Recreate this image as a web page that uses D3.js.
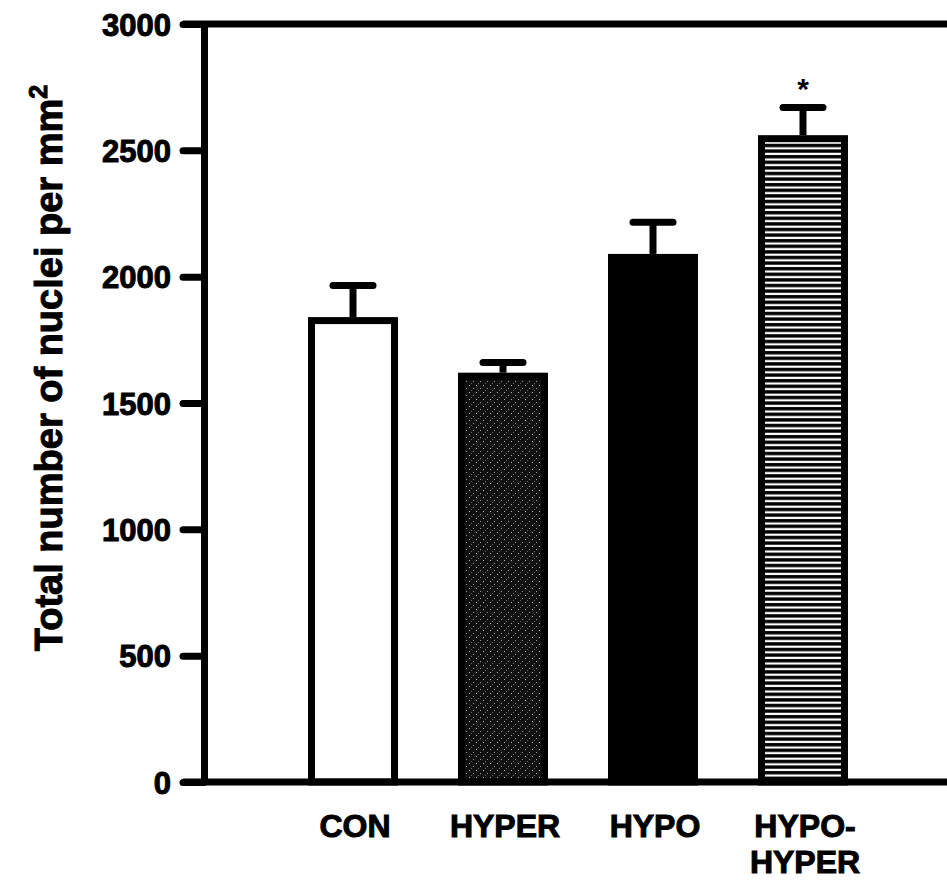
<!DOCTYPE html>
<html>
<head>
<meta charset="utf-8">
<script src="https://cdn.jsdelivr.net/npm/d3@7"></script>
<style>
  html, body { margin: 0; padding: 0; background: #fff; }
  svg { display: block; }
  text { font-family: "Liberation Sans", Arial, sans-serif; font-weight: bold; fill: #000; }
</style>
</head>
<body>
<svg id="chart" width="947" height="893"></svg>
<script>
// ---- data ----
const categories = ["CON", "HYPER", "HYPO", "HYPO-HYPER"];
const labelLines = [["CON"], ["HYPER"], ["HYPO"], ["HYPO-", "HYPER"]];
const means = [1840, 1620, 2090, 2560];
const errors = [125, 40, 125, 110];
const significant = [false, false, false, true];
const yTicks = [0, 500, 1000, 1500, 2000, 2500, 3000];
const yTitle = "Total number of nuclei per mm";

// ---- layout ----
const svg = d3.select("#chart");
const axisX = 204, yTop = 24, yBottom = 782, rightEdge = 947;
const lw = 7;

const y = d3.scaleLinear().domain([0, 3000]).range([yBottom, yTop]);
const x = d3.scaleBand().domain(categories).range([278, 878]).paddingInner(0.4).paddingOuter(0.2);

// patterns
const defs = svg.append("defs");
const stip = defs.append("pattern").attr("id", "stipple").attr("patternUnits", "userSpaceOnUse")
  .attr("width", 7).attr("height", 7);
stip.append("rect").attr("width", 7).attr("height", 7).attr("fill", "#111");
stip.append("rect").attr("x", 0).attr("y", 0).attr("width", 1).attr("height", 1).attr("fill", "#bbb");
stip.append("rect").attr("x", 4).attr("y", 3).attr("width", 1).attr("height", 1).attr("fill", "#999");
stip.append("rect").attr("x", 2).attr("y", 5).attr("width", 1).attr("height", 1).attr("fill", "#666");

const stripe = defs.append("pattern").attr("id", "stripes").attr("patternUnits", "userSpaceOnUse")
  .attr("width", 10).attr("height", 5.6);
stripe.append("rect").attr("width", 10).attr("height", 5.6).attr("fill", "#000");
stripe.append("rect").attr("y", 1.6).attr("width", 10).attr("height", 2.2).attr("fill", "#fff");

const fills = ["#fff", "url(#stipple)", "#000", "url(#stripes)"];

// error bars
const eb = svg.append("g").attr("class", "errorbars");
categories.forEach((c, i) => {
  const cx = x(c) + x.bandwidth() / 2;
  eb.append("line").attr("x1", cx).attr("x2", cx)
    .attr("y1", y(means[i])).attr("y2", y(means[i] + errors[i]))
    .attr("stroke", "#000").attr("stroke-width", lw);
  eb.append("line").attr("x1", cx - 20).attr("x2", cx + 20)
    .attr("y1", y(means[i] + errors[i])).attr("y2", y(means[i] + errors[i]))
    .attr("stroke", "#000").attr("stroke-width", lw).attr("stroke-linecap", "round");
});

// bars
svg.append("g").selectAll("rect").data(categories).join("rect")
  .attr("x", d => x(d) + lw / 2)
  .attr("width", x.bandwidth() - lw)
  .attr("y", (d, i) => y(means[i]) + lw / 2)
  .attr("height", (d, i) => yBottom - y(means[i]) - lw / 2)
  .attr("fill", (d, i) => fills[i])
  .attr("stroke", "#000").attr("stroke-width", lw);

// significance marks
svg.append("g").selectAll("text").data(categories.filter((c, i) => significant[i])).join("text")
  .attr("x", d => x(d) + x.bandwidth() / 2)
  .attr("y", d => y(means[categories.indexOf(d)] + errors[categories.indexOf(d)]) - 8)
  .attr("text-anchor", "middle").attr("font-size", 30).text("*");

// y axis
const yAxis = d3.axisLeft(y).tickValues(yTicks).tickSize(21).tickSizeOuter(0).tickPadding(12)
  .tickFormat(d3.format("d"));
const gy = svg.append("g").attr("transform", `translate(${axisX},0)`).call(yAxis);
gy.select(".domain").attr("stroke", "#000").attr("stroke-width", lw);
gy.selectAll(".tick line").attr("stroke", "#000").attr("stroke-width", lw).attr("stroke-linecap", "round");
gy.selectAll(".tick text").attr("font-size", 31).attr("font-family", "Liberation Sans, Arial, sans-serif")
  .attr("font-weight", "bold").attr("dy", "0.36em")
  .attr("stroke", "#000").attr("stroke-width", 1);

// frame lines (top and bottom)
svg.append("line").attr("x1", axisX - 21).attr("x2", rightEdge).attr("y1", y(3000)).attr("y2", y(3000))
  .attr("stroke", "#000").attr("stroke-width", lw);
svg.append("line").attr("x1", axisX - 21).attr("x2", rightEdge).attr("y1", y(0)).attr("y2", y(0))
  .attr("stroke", "#000").attr("stroke-width", lw);

// x labels
const xl = svg.append("g");
categories.forEach((c, i) => {
  const cx = x(c) + x.bandwidth() / 2 + 2;
  const t = xl.append("text").attr("x", cx).attr("y", 837)
    .attr("text-anchor", "middle").attr("font-size", 32)
    .attr("stroke", "#000").attr("stroke-width", 1);
  labelLines[i].forEach((ln, j) => {
    t.append("tspan").attr("x", cx).attr("dy", j === 0 ? 0 : 36).text(ln);
  });
});

// y title
const yt = svg.append("text").attr("transform", "translate(62,368) rotate(-90)")
  .attr("text-anchor", "middle").attr("font-size", 38)
  .attr("stroke", "#000").attr("stroke-width", 1);
yt.append("tspan").text(yTitle);
yt.append("tspan").attr("font-size", 25).attr("dy", -15).text("2");
</script>
</body>
</html>
